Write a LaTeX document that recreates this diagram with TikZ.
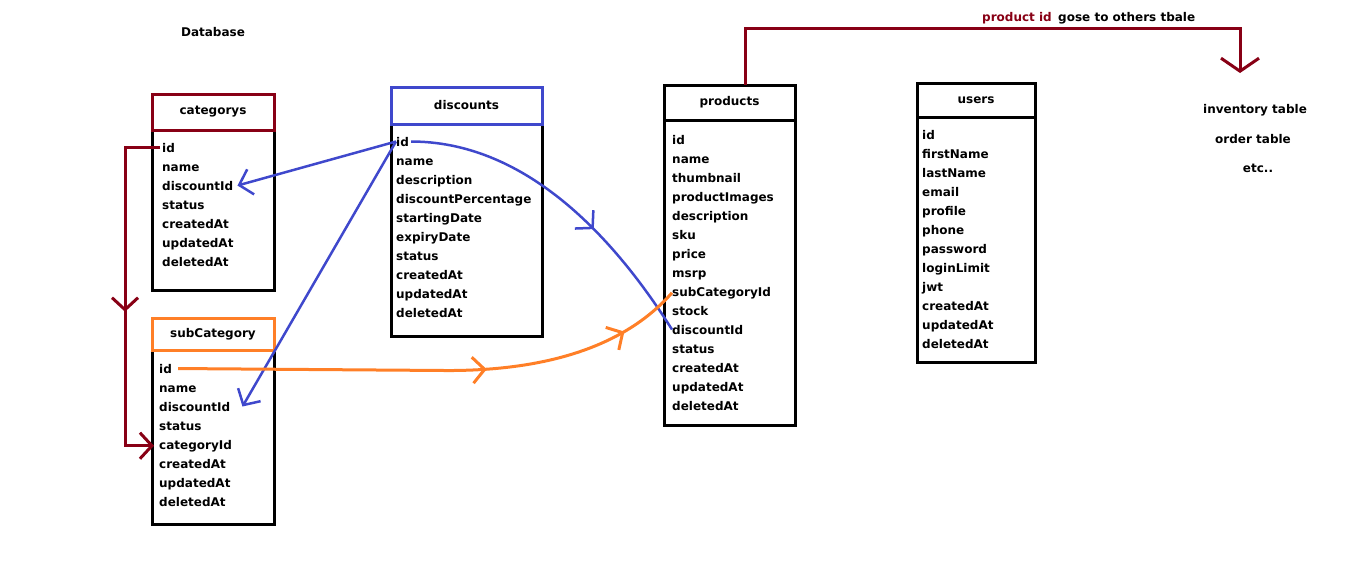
\documentclass[tikz,border=0pt]{standalone}
\usepackage{fontspec}
\setmainfont{DejaVu Sans}
\usetikzlibrary{positioning,arrows.meta,decorations.markings}
\definecolor{dkred}{RGB}{136,0,21}
\definecolor{indigo}{RGB}{63,72,204}
\definecolor{paintorange}{RGB}{255,127,39}
\tikzset{%
  tbody/.style    = {shape=rectangle, draw=black, line width=3pt,%
                     anchor=north west, outer sep=0pt, inner sep=0pt},%
  thead/.style    = {shape=rectangle, line width=3pt, outer sep=0pt},%
  field/.style    = {anchor=base west, inner sep=0pt},%
  note/.style     = {inner sep=0pt},%
  fkbarb/.tip     = {Straight Barb[length=12pt,width=26pt]},%
  bigbarb/.tip    = {Straight Barb[length=13pt,width=38pt]},%
  redlink/.style  = {dkred, line width=3pt},%
  bluelink/.style = {indigo, line width=2.5pt},%
  orangelink/.style = {paintorange, line width=3pt},%
  midarrow/.style = {postaction={decorate, decoration={markings,%
                     mark=at position #1 with {\arrow{fkbarb}}}}}%
}
% one row per column name, 19pt apart
\newcommand\tablefields[4]{%
  \foreach \f [count=\i from 0] in {#4}
    \node[field] (#1-\f) at ([shift={(#2,#3+19*\i)}]#1.north west) {\f};%
}

\begin{document}
\begin{tikzpicture}[x=1pt,y=-1pt,
	every node/.style = {font=\fontsize{12}{14}\selectfont\bfseries}]
	\useasboundingbox (0,0) rectangle (1352,560);
	\node[note] (dbtitle) at (213,32) {Database};
	% tables
	\node[tbody, minimum width=122, minimum height=160] (categorys) at (152,130) {};
	\node[thead, draw=dkred, minimum width=122, minimum height=36, above=0pt of categorys] (categorys-head) {categorys};
	\tablefields{categorys}{10}{22}{id,name,discountId,status,createdAt,updatedAt,deletedAt}
	\node[tbody, minimum width=151, minimum height=212] (discounts) at (391,124) {};
	\node[thead, draw=indigo, minimum width=151, minimum height=37, above=0pt of discounts] (discounts-head) {discounts};
	\tablefields{discounts}{5}{22}{id,name,description,discountPercentage,startingDate,expiryDate,status,createdAt,updatedAt,deletedAt}
	\node[tbody, minimum width=122, minimum height=174] (subcat) at (152,350) {};
	\node[thead, draw=paintorange, minimum width=122, minimum height=32, above=0pt of subcat] (subcat-head) {subCategory};
	\tablefields{subcat}{7}{23}{id,name,discountId,status,categoryId,createdAt,updatedAt,deletedAt}
	\node[tbody, minimum width=131, minimum height=305] (products) at (664,120) {};
	\node[thead, draw=black, minimum width=131, minimum height=35, above=0pt of products] (products-head) {products};
	\tablefields{products}{8}{24}{id,name,thumbnail,productImages,description,sku,price,msrp,subCategoryId,stock,discountId,status,createdAt,updatedAt,deletedAt}
	\node[tbody, minimum width=118, minimum height=245] (users) at (917,117) {};
	\node[thead, draw=black, minimum width=118, minimum height=34, above=0pt of users] (users-head) {users};
	\tablefields{users}{5}{22}{id,firstName,lastName,email,profile,phone,password,loginLimit,jwt,createdAt,updatedAt,deletedAt}
	% other tables
	\node[note] (inv) at (1255,110) {inventory table};
	\node[note] (ord) at (1253,139) {order table};
	\node[note] (etc) at (1258,168) {etc..};
	\node[note, text=dkred, anchor=base west] (pid) at (982,21) {product id};
	\node[note, anchor=base west] (gose) at ([xshift=6pt]pid.base east) {gose to others tbale};
	\coordinate (others) at (1240,73);
	% links
	\draw[redlink, -fkbarb, midarrow=0.55] ([xshift=-2pt]categorys-id.west) -- ++(-35,0) |- ([xshift=-5pt]subcat-categoryId.west);
	\draw[redlink, -bigbarb] ([xshift=16pt]products-head.north) -- ++(0,-57) -| (others);
	\draw[bluelink, -fkbarb] (discounts-id.west) -- ([xshift=4pt]categorys-discountId.east);
	\draw[bluelink, -fkbarb] (discounts-id.west) -- ([xshift=12pt]subcat-discountId.east);
	\draw[bluelink, midarrow=0.62] ([xshift=2pt]discounts-id.east) .. controls +(110,0) and +(-63,-100) .. (products-discountId.west);
	\draw[orangelink, midarrow=0.6, midarrow=0.88] ([xshift=6pt]subcat-id.east) -- ++(270,2) .. controls +(110,0) and +(-42,48) .. (products-subCategoryId.west);
\end{tikzpicture}
\end{document}
